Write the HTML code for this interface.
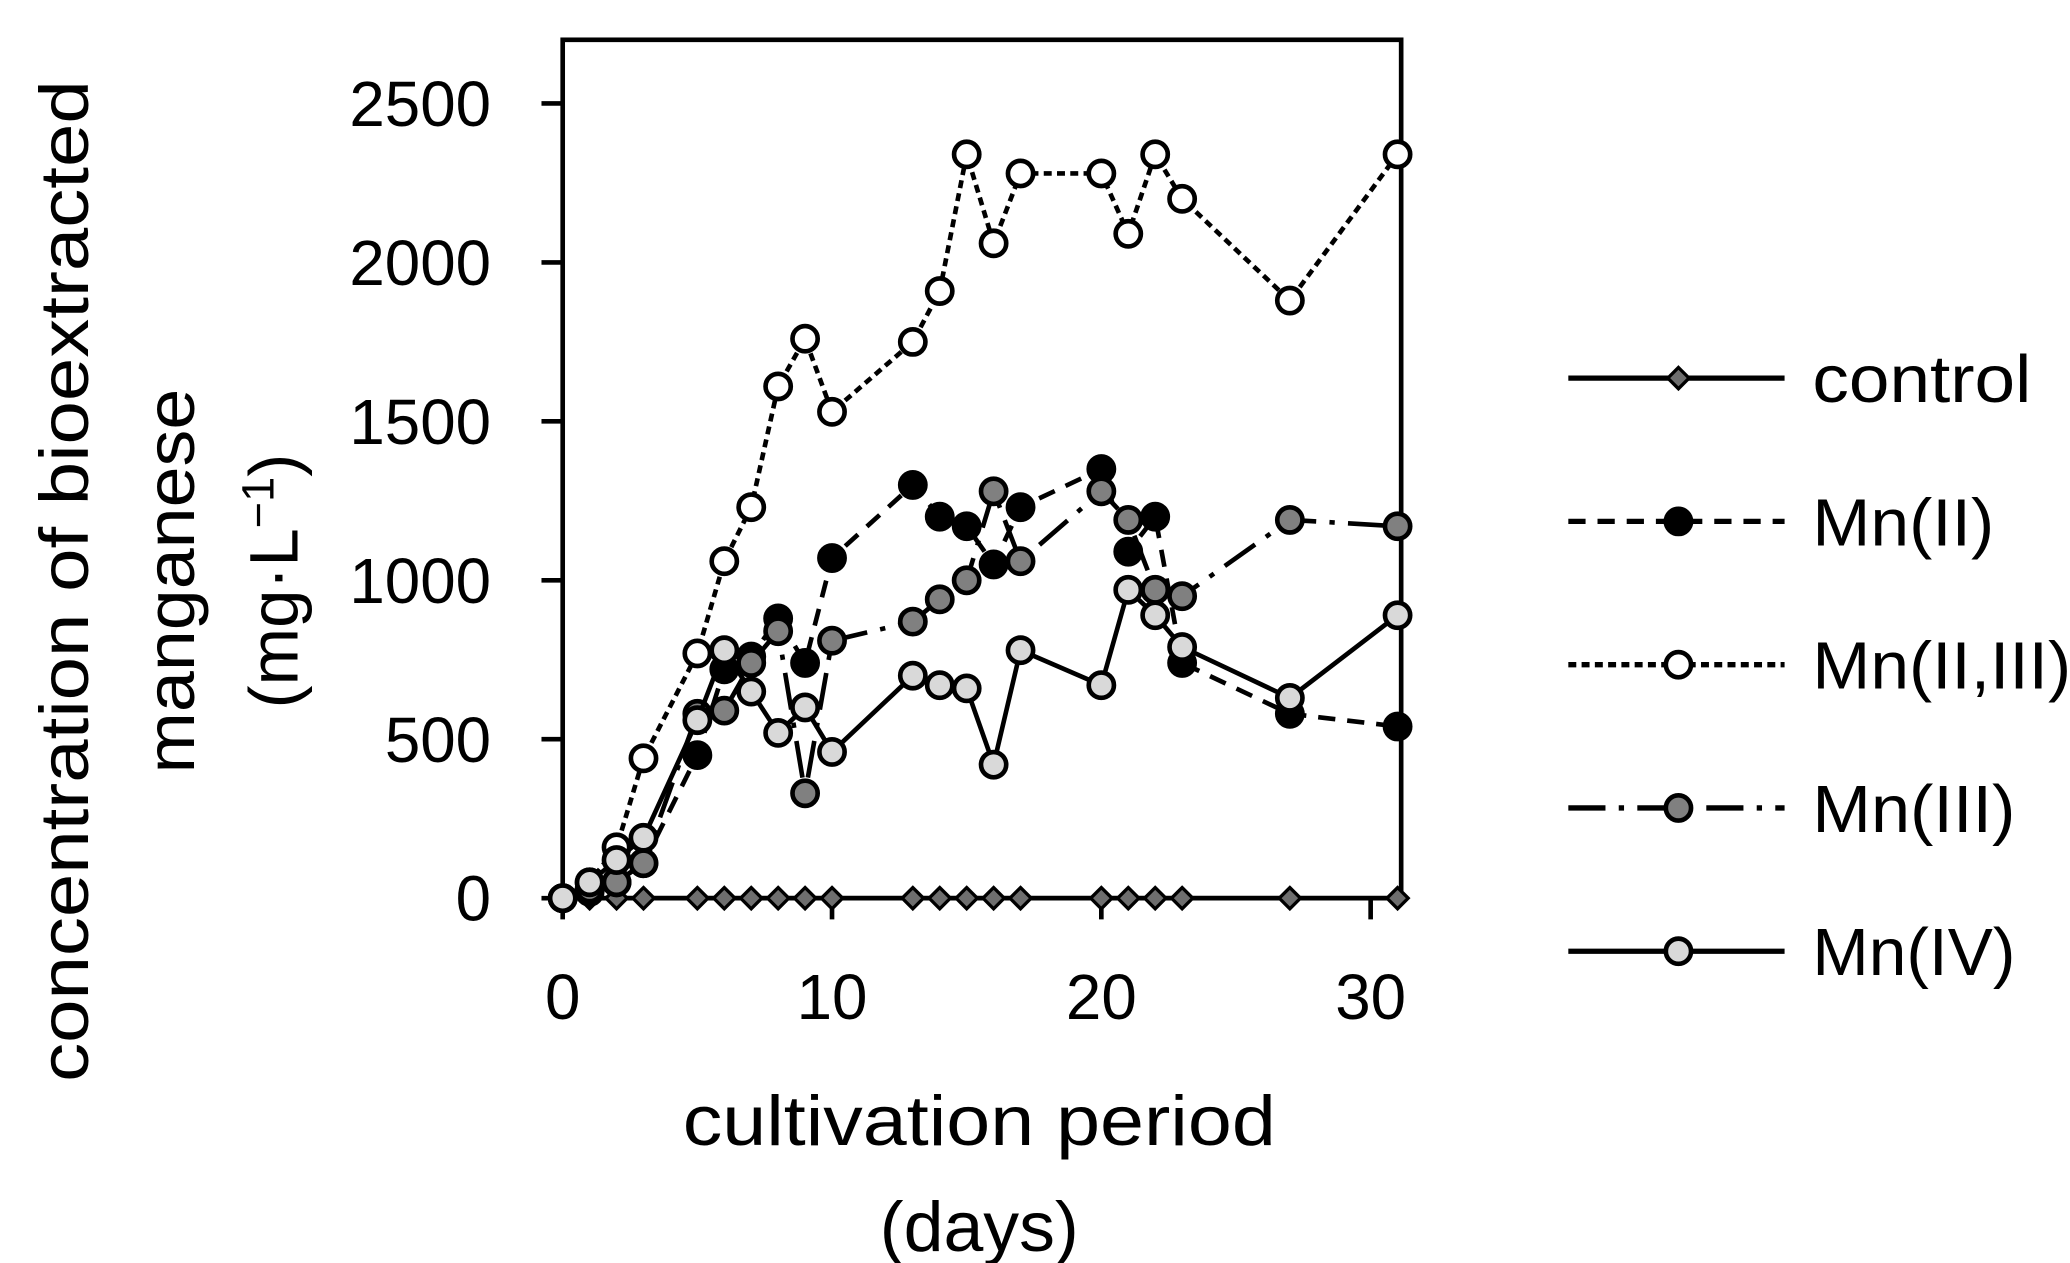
<!DOCTYPE html>
<html><head><meta charset="utf-8"><style>
html,body{margin:0;padding:0;background:#fff;}
svg{display:block;font-family:"Liberation Sans",sans-serif;}
</style></head><body>
<svg id="chart" width="2070" height="1263" viewBox="0 0 1560 952" xmlns="http://www.w3.org/2000/svg">
<g id="axes"></g><g id="series"></g><g id="legend"></g>
<text transform="translate(66,438) rotate(-90)" text-anchor="middle" font-size="52" textLength="755" lengthAdjust="spacingAndGlyphs">concentration of bioextracted</text>
<text transform="translate(146,438) rotate(-90)" text-anchor="middle" font-size="52" textLength="290" lengthAdjust="spacingAndGlyphs">manganese</text>
<text transform="translate(224,438) rotate(-90)" text-anchor="middle" font-size="52">(mg·L<tspan dy="-18" font-size="34">−1</tspan><tspan dy="18">)</tspan></text>
<text x="738" y="863" text-anchor="middle" font-size="53" textLength="447" lengthAdjust="spacingAndGlyphs">cultivation period</text>
<text x="738" y="943" text-anchor="middle" font-size="53" textLength="150" lengthAdjust="spacingAndGlyphs">(days)</text>
</svg>
<script>
const days=[0,1,2,3,5,6,7,8,9,10,13,14,15,16,17,20,21,22,23,27,31];
const control=[0,0,0,0,0,0,0,0,0,0,0,0,0,0,0,0,0,0,0,0,0];
const mn2=[0,20,50,110,450,720,760,880,740,1070,1300,1200,1170,1050,1230,1350,1090,1200,740,580,540];
const mn23=[0,50,160,440,770,1060,1230,1610,1760,1530,1750,1910,2340,2060,2280,2280,2090,2340,2200,1880,2340];
const mn3=[0,30,50,110,580,590,740,840,330,810,870,940,1000,1280,1060,1280,1190,970,950,1190,1170];
const mn4=[0,50,120,190,560,780,650,520,600,460,700,670,660,420,780,670,970,890,790,630,890];
const yTicks=[0,500,1000,1500,2000,2500];
const xTicks=[0,10,20,30];
const NS="http://www.w3.org/2000/svg";
const X=d=>424+d*(1033-424)/30;
const Y=v=>677-v*(677-78)/2500;
function mk(tag,at,parent){const e=document.createElementNS(NS,tag);for(const k in at)e.setAttribute(k,at[k]);parent.appendChild(e);return e;}
const axes=document.getElementById('axes');
const frame=mk('rect',{x:424,y:30,width:632,height:647,fill:'none',stroke:'#000','stroke-width':3.5},axes);


yTicks.forEach(t=>{
 const l=mk('line',{x1:408,x2:424,y1:Y(t),y2:Y(t),stroke:'#000','stroke-width':3.5},axes);
 
 
 const tx=mk('text',{x:370,y:Y(t)+17,'text-anchor':'end','font-size':48},axes);tx.textContent=t;
 
 
});
xTicks.forEach(t=>{
 const l=mk('line',{x1:X(t),x2:X(t),y1:677,y2:693,stroke:'#000','stroke-width':3.5},axes);
 
 
 const tx=mk('text',{x:X(t),y:768,'text-anchor':'middle','font-size':48},axes);tx.textContent=t;
 
 
});
const seriesDefs=[
 {name:'control',vals:control,dash:'',fill:'#6e6e6e',shape:'diamond',tl:165},
 {name:'Mn(II)',vals:mn2,dash:'13,9',fill:'#000',shape:'circle',tl:137},
 {name:'Mn(II,III)',vals:mn23,dash:'6,4',fill:'#fff',shape:'circle',tl:195},
 {name:'Mn(III)',vals:mn3,dash:'28,10,4,10',fill:'#808080',shape:'circle',tl:153},
 {name:'Mn(IV)',vals:mn4,dash:'',fill:'#d9d9d9',shape:'circle',tl:153}
];
const sg=document.getElementById('series');const lg=document.getElementById('legend');
function marker(s,x,y,parent){
 let m;
 if(s.shape==='diamond'){m=mk('polygon',{points:`${x},${y-8} ${x+8},${y} ${x},${y+8} ${x-8},${y}`,fill:s.fill,stroke:'#000','stroke-width':2.5},parent);}
 else m=mk('circle',{cx:x,cy:y,r:9.5,fill:s.fill,stroke:'#000','stroke-width':3.5},parent);
 return m;
}
seriesDefs.forEach((s,i)=>{
 const g=mk('g',{},sg);
 
 
 const pts=days.map((d,j)=>X(d)+','+Y(s.vals[j])).join(' ');
 const pl=mk('polyline',{points:pts,fill:'none',stroke:'#000','stroke-width':3.5,'stroke-dasharray':s.dash||'none'},g);
 
 
 days.forEach((d,j)=>{const m=marker(s,X(d),Y(s.vals[j]),g);
  
  });
 const ly=285+i*108;
 const le=mk('g',{},lg);
 
 
 mk('line',{x1:1182,x2:1345,y1:ly,y2:ly,stroke:'#000','stroke-width':4,'stroke-dasharray':s.dash||'none'},le);
 marker(s,1265,ly,le);
 const t=mk('text',{x:1366,y:ly+18,'font-size':50,textLength:s.tl,lengthAdjust:'spacingAndGlyphs'},le);t.textContent=s.name;
});
</script>
</body></html>
